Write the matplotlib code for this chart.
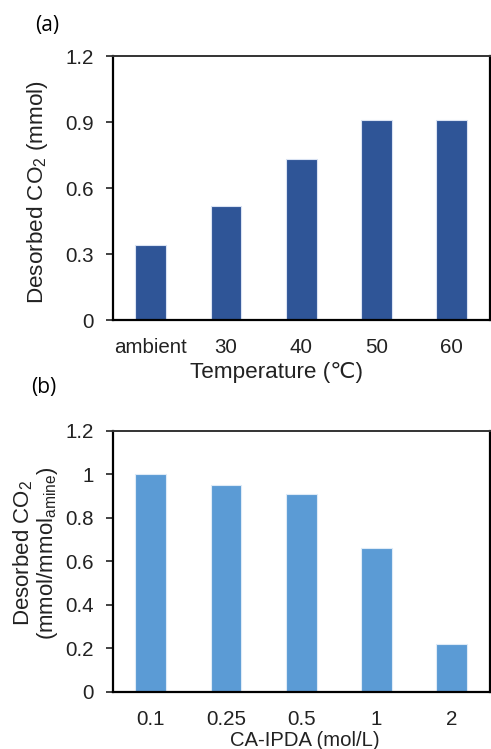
import numpy as np
import matplotlib
matplotlib.use('Agg')
import matplotlib.pyplot as plt

plt.rcParams['font.family'] = ['Liberation Sans', 'DejaVu Sans']
plt.rcParams['mathtext.fontset'] = 'custom'
plt.rcParams['mathtext.rm'] = 'Liberation Sans'
plt.rcParams['mathtext.it'] = 'Liberation Sans:italic'

# panel (a): desorbed CO2 vs temperature
temp_labels = ['ambient', '30', '40', '50', '60']
temp_co2 = [0.34, 0.52, 0.73, 0.91, 0.91]

# panel (b): desorbed CO2 per amine vs CA-IPDA concentration
conc_labels = ['0.1', '0.25', '0.5', '1', '2']
conc_co2 = [1.00, 0.95, 0.91, 0.66, 0.22]

fig = plt.figure(figsize=(4.91, 7.49), dpi=100)
ax1 = fig.add_axes([113/491, 1-320/749, 376.5/491, 264/749])
ax2 = fig.add_axes([113/491, 1-691.7/749, 376.5/491, 261/749])

def style(ax, ticks, size):
    ax.set_xlim(-0.5, 4.5)
    ax.set_ylim(0, 1.2)
    ax.set_yticks(ticks)
    ax.tick_params(axis='y', direction='out', length=5, width=1.2, pad=9, labelsize=size, colors='#222222')
    ax.tick_params(axis='x', length=0, pad=13, labelsize=size, colors='#222222')
    for s in ['left', 'bottom', 'right']:
        ax.spines[s].set_linewidth(1.6)
        ax.spines[s].set_color('black')
    ax.spines['top'].set_linewidth(1.4)
    ax.spines['top'].set_color('#333333')

x = np.arange(len(temp_labels))
ax1.bar(x, temp_co2, width=0.41, color='#2F5597', edgecolor='#DAE3F3', linewidth=0.8)
ax1.set_xticks(x)
ax1.set_xticklabels(temp_labels)
style(ax1, [0, 0.3, 0.6, 0.9, 1.2], 14.8)
ax1.set_yticklabels(['0', '0.3', '0.6', '0.9', '1.2'])
ax1.set_ylabel('Desorbed CO$_2$ (mmol)', fontsize=16.2, color='#222222')
ax1.yaxis.set_label_coords(-0.167, 0.485)
ax1.set_xlabel('Temperature (℃)', fontsize=16.2, color='#222222', va='center')
ax1.xaxis.set_label_coords(0.433, -0.20)

x2 = np.arange(len(conc_labels))
ax2.bar(x2, conc_co2, width=0.41, color='#5B9BD5', edgecolor='#DEEBF7', linewidth=0.8)
ax2.set_xticks(x2)
ax2.set_xticklabels(conc_labels)
style(ax2, [0, 0.2, 0.4, 0.6, 0.8, 1.0, 1.2], 14.8)
ax2.set_yticklabels(['0', '0.2', '0.4', '0.6', '0.8', '1', '1.2'])
ax2.set_ylabel('Desorbed CO$_2$\n(mmol/mmol$_{\\mathrm{amine}}$)', fontsize=16, color='#222222', linespacing=1.0)
ax2.yaxis.set_label_coords(-0.14, 0.53)
ax2.set_xlabel('CA-IPDA (mol/L)', fontsize=14.6, color='#222222', va='center')
ax2.xaxis.set_label_coords((305-113)/376.5, (691.7-740)/261)

fig.text(47/491, 1-25/749, '(a)', fontsize=15, ha='center', va='center', family=['Open Sans', 'DejaVu Sans'])
fig.text(44/491, 1-388/749, '(b)', fontsize=15, ha='center', va='center', family=['Open Sans', 'DejaVu Sans'])

fig.savefig('out.png', dpi=100)
